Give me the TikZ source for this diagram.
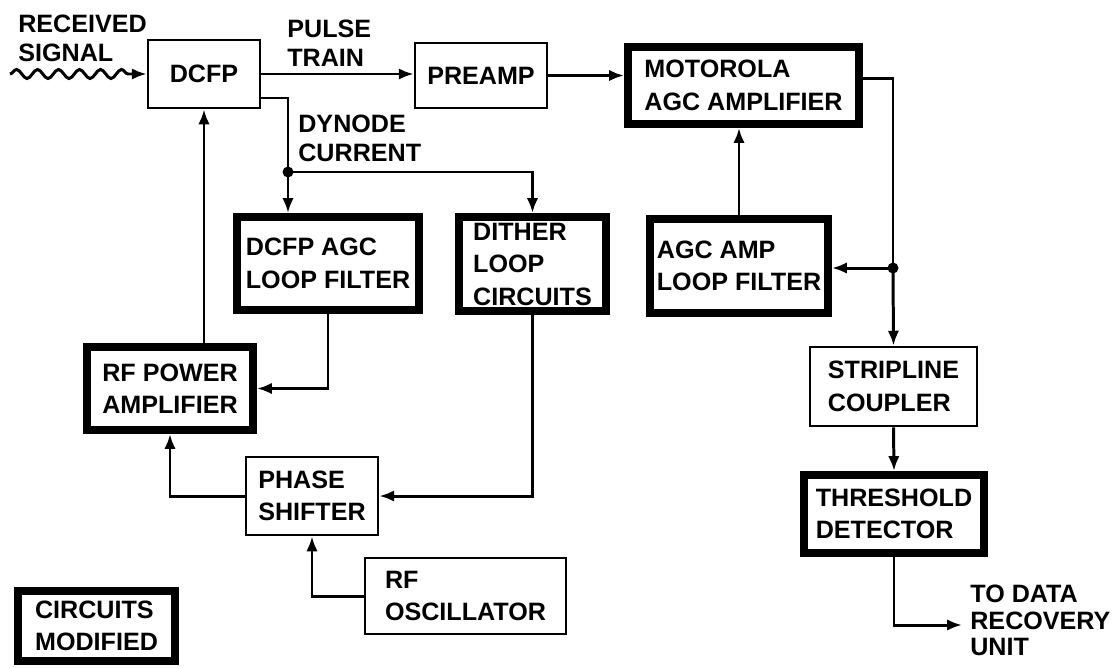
\documentclass[tikz,border=0pt]{standalone}
\usepackage{fontspec}
\setmainfont{Liberation Sans}
\usetikzlibrary{arrows.meta,decorations.pathmorphing}

\begin{document}
\begin{tikzpicture}[x=0.02cm,y=-0.02cm,>={Latex[length=8.5pt,width=6.5pt]},
  every node/.style={font=\fontsize{14.3}{16}\selectfont\bfseries,align=left},
  blk/.style={draw,line width=1.5pt,inner sep=0pt,font=\fontsize{14.3}{18.5}\selectfont\bfseries},
  modblk/.style={draw,line width=4.5pt,inner sep=0pt,font=\fontsize{14.3}{18.5}\selectfont\bfseries},
  wire/.style={line width=1.7pt}]

  \useasboundingbox (0,0) rectangle (1117,667);

  \node[blk,minimum width=2.24cm,minimum height=1.36cm] (dcfp) at (204,74) {DCFP};
  \node[blk,minimum width=2.64cm,minimum height=1.30cm] (preamp) at (481,75.5) {PREAMP};
  \node[modblk,minimum width=4.62cm,minimum height=1.54cm] (motorola) at (743.5,85.5) {MOTOROLA\\AGC AMPLIFIER};
  \node[modblk,minimum width=3.64cm,minimum height=1.86cm] (dcfpagc) at (328,263.5) {DCFP AGC\\LOOP FILTER};
  \node[modblk,minimum width=2.94cm,minimum height=1.88cm] (dither) at (532.5,264) {DITHER\\LOOP\\CIRCUITS};
  \node[modblk,minimum width=3.56cm,minimum height=1.88cm] (agcamp) at (739,266) {AGC AMP\\LOOP FILTER};
  \node[modblk,minimum width=3.32cm,minimum height=1.66cm] (rfpower) at (170,388.5) {RF POWER\\AMPLIFIER};
  \node[blk,minimum width=2.64cm,minimum height=1.56cm] (phase) at (312,496) {PHASE\\SHIFTER};
  \node[blk,minimum width=4.02cm,minimum height=1.52cm] (rfosc) at (465.5,596) {RF\\OSCILLATOR};
  \node[blk,minimum width=3.34cm,minimum height=1.58cm] (stripline) at (893.5,386.5) {STRIPLINE\\COUPLER};
  \node[modblk,minimum width=3.60cm,minimum height=1.56cm] (threshold) at (894,514) {THRESHOLD\\DETECTOR};
  \node[modblk,minimum width=3.14cm,minimum height=1.40cm] (legend) at (96.5,626) {CIRCUITS\\MODIFIED};

  \node[anchor=north west,inner sep=0pt] (received) at (18,15) {RECEIVED\\SIGNAL};
  \node[anchor=north west,inner sep=0pt] (pulse) at (287,20) {PULSE\\TRAIN};
  \node[anchor=north west,inner sep=0pt] (dynode) at (298,115) {DYNODE\\CURRENT};
  \node[anchor=north west,inner sep=0pt,font=\fontsize{14.3}{15}\selectfont\bfseries] (recovery) at (970,585) {TO DATA\\RECOVERY\\UNIT};

  \coordinate (wave) at (10,74);
  \coordinate (jd) at (288,172);
  \coordinate (jr) at (893,268);
  \coordinate (out) at (962,625);

  \draw[wire,->,decorate,decoration={snake,segment length=0.42cm,amplitude=0.09cm,post length=0.2cm}] (wave) -- (dcfp.west);
  \draw[wire,->] (dcfp.east) -- (dcfp.east -| preamp.west);
  \draw[wire,->] (preamp.east) -- (preamp.east -| motorola.west);
  \draw[wire] ([yshift=0.15cm]motorola.east) -| (jr);
  \draw[wire,->] (jr) -- (jr -| agcamp.east);
  \draw[wire,->] (jr) -- (stripline.north);
  \draw[wire,->] (agcamp.north) -- (agcamp.north |- motorola.south);
  \draw[wire,->] (stripline.south) -- (threshold.north);
  \draw[wire,->] (threshold.south) |- (out);

  \draw[wire] ([yshift=-0.48cm]dcfp.east) -| (jd);
  \draw[wire,->] (jd) -- (jd |- dcfpagc.north);
  \draw[wire,->] (jd) -| (dither.north);
  \draw[wire,->] (dcfpagc.south) |- (rfpower.east);
  \draw[wire,->] (dither.south) |- (phase.east);
  \draw[wire,->] (phase.west) -| (rfpower.south);
  \draw[wire,->] (rfosc.west) -| (phase.south);
  \draw[wire,->] (rfpower.north -| dcfp.south) -- (dcfp.south);

  \fill (jd) circle (0.11cm);
  \fill (jr) circle (0.11cm);
\end{tikzpicture}
\end{document}
